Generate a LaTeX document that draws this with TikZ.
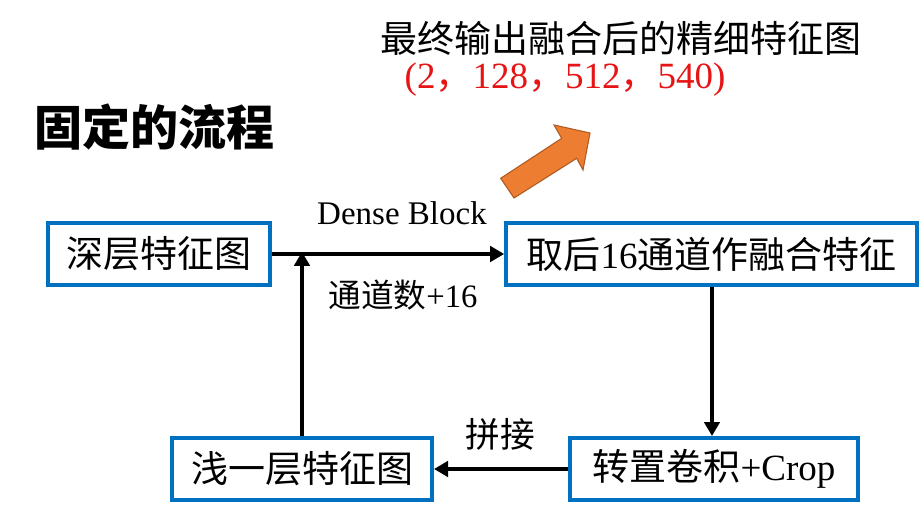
\documentclass[tikz,border=0pt]{standalone}
\usepackage{fontspec}
\setmainfont{Liberation Serif}
\newfontfamily\cjk{Noto Sans CJK SC}
\usetikzlibrary{arrows.meta}
\usepackage{xcolor}

\definecolor{boxblue}{RGB}{0,112,192}
\definecolor{arroworange}{RGB}{237,125,49}
\definecolor{arrowedge}{RGB}{174,90,33}
\definecolor{numred}{RGB}{230,20,20}

\tikzset{
  stepbox/.style={draw=boxblue, line width=3pt, inner sep=0pt, minimum height=46.5pt, font=\fontsize{27.75}{30}\selectfont},
  flow/.style={line width=3.2pt, -{Triangle[length=10.5pt,width=11.5pt]}},
  lbl/.style={inner sep=0pt}
}

\begin{document}
\begin{tikzpicture}[x=0.75pt,y=0.75pt,yscale=-1,xscale=1]
\useasboundingbox (0,0) rectangle (922,514);

% Boxes
\node (deep) [stepbox, minimum width=166.5pt] at (159,254) {\cjk 深层特征图};
\node (fuse) [stepbox, minimum width=308pt] at (711.5,254) {{\cjk 取后}16{\cjk 通道作融合特征}};
\node (tconv) [stepbox, minimum width=216pt] at (714,469) {{\cjk 转置卷积}+Crop};
\node (shallow) [stepbox, minimum width=195pt] at (302,469) {\cjk 浅一层特征图};

% Connectors
\coordinate (join) at (302,254);
\draw [flow] (deep.east) -- (fuse.west);
\draw [flow] (fuse.south -| 712,0) -- (tconv.north -| 712,0);
\draw [flow] (tconv.west) -- (shallow.east);
\draw [flow] (shallow.north) -- ([yshift=-1.6pt]join);

% Labels
\node (dense) [lbl, font=\fontsize{24.75}{27}\selectfont] at (402,213) {Dense Block};
\node (plus) [lbl, font=\fontsize{24.5}{27}\selectfont] at (403,295) {{\cjk 通道数}+16};
\node (concat) [lbl, font=\fontsize{26}{28}\selectfont] at (500,434) {\cjk 拼接};

% Output
\node (out) [lbl, font=\fontsize{27.75}{30}\selectfont] at (621,38) {\cjk 最终输出融合后的精细特征图};
\node (shape) [lbl, text=numred, font=\fontsize{27.75}{30}\selectfont] at (565,80) {(2{\cjk ，}128{\cjk ，}512{\cjk ，}540)};
\node (title) [lbl, font=\fontsize{36}{38}\selectfont] at (155,127) {\cjk\bfseries 固定的流程};

% Orange arrow
\draw [draw=arrowedge, fill=arroworange, line width=0.8pt] (500.7,178.3) -- (561.7,138.3) -- (554,125) -- (590,133) -- (583,170) -- (576.7,158.3) -- (514,198) -- cycle;

\end{tikzpicture}
\end{document}
